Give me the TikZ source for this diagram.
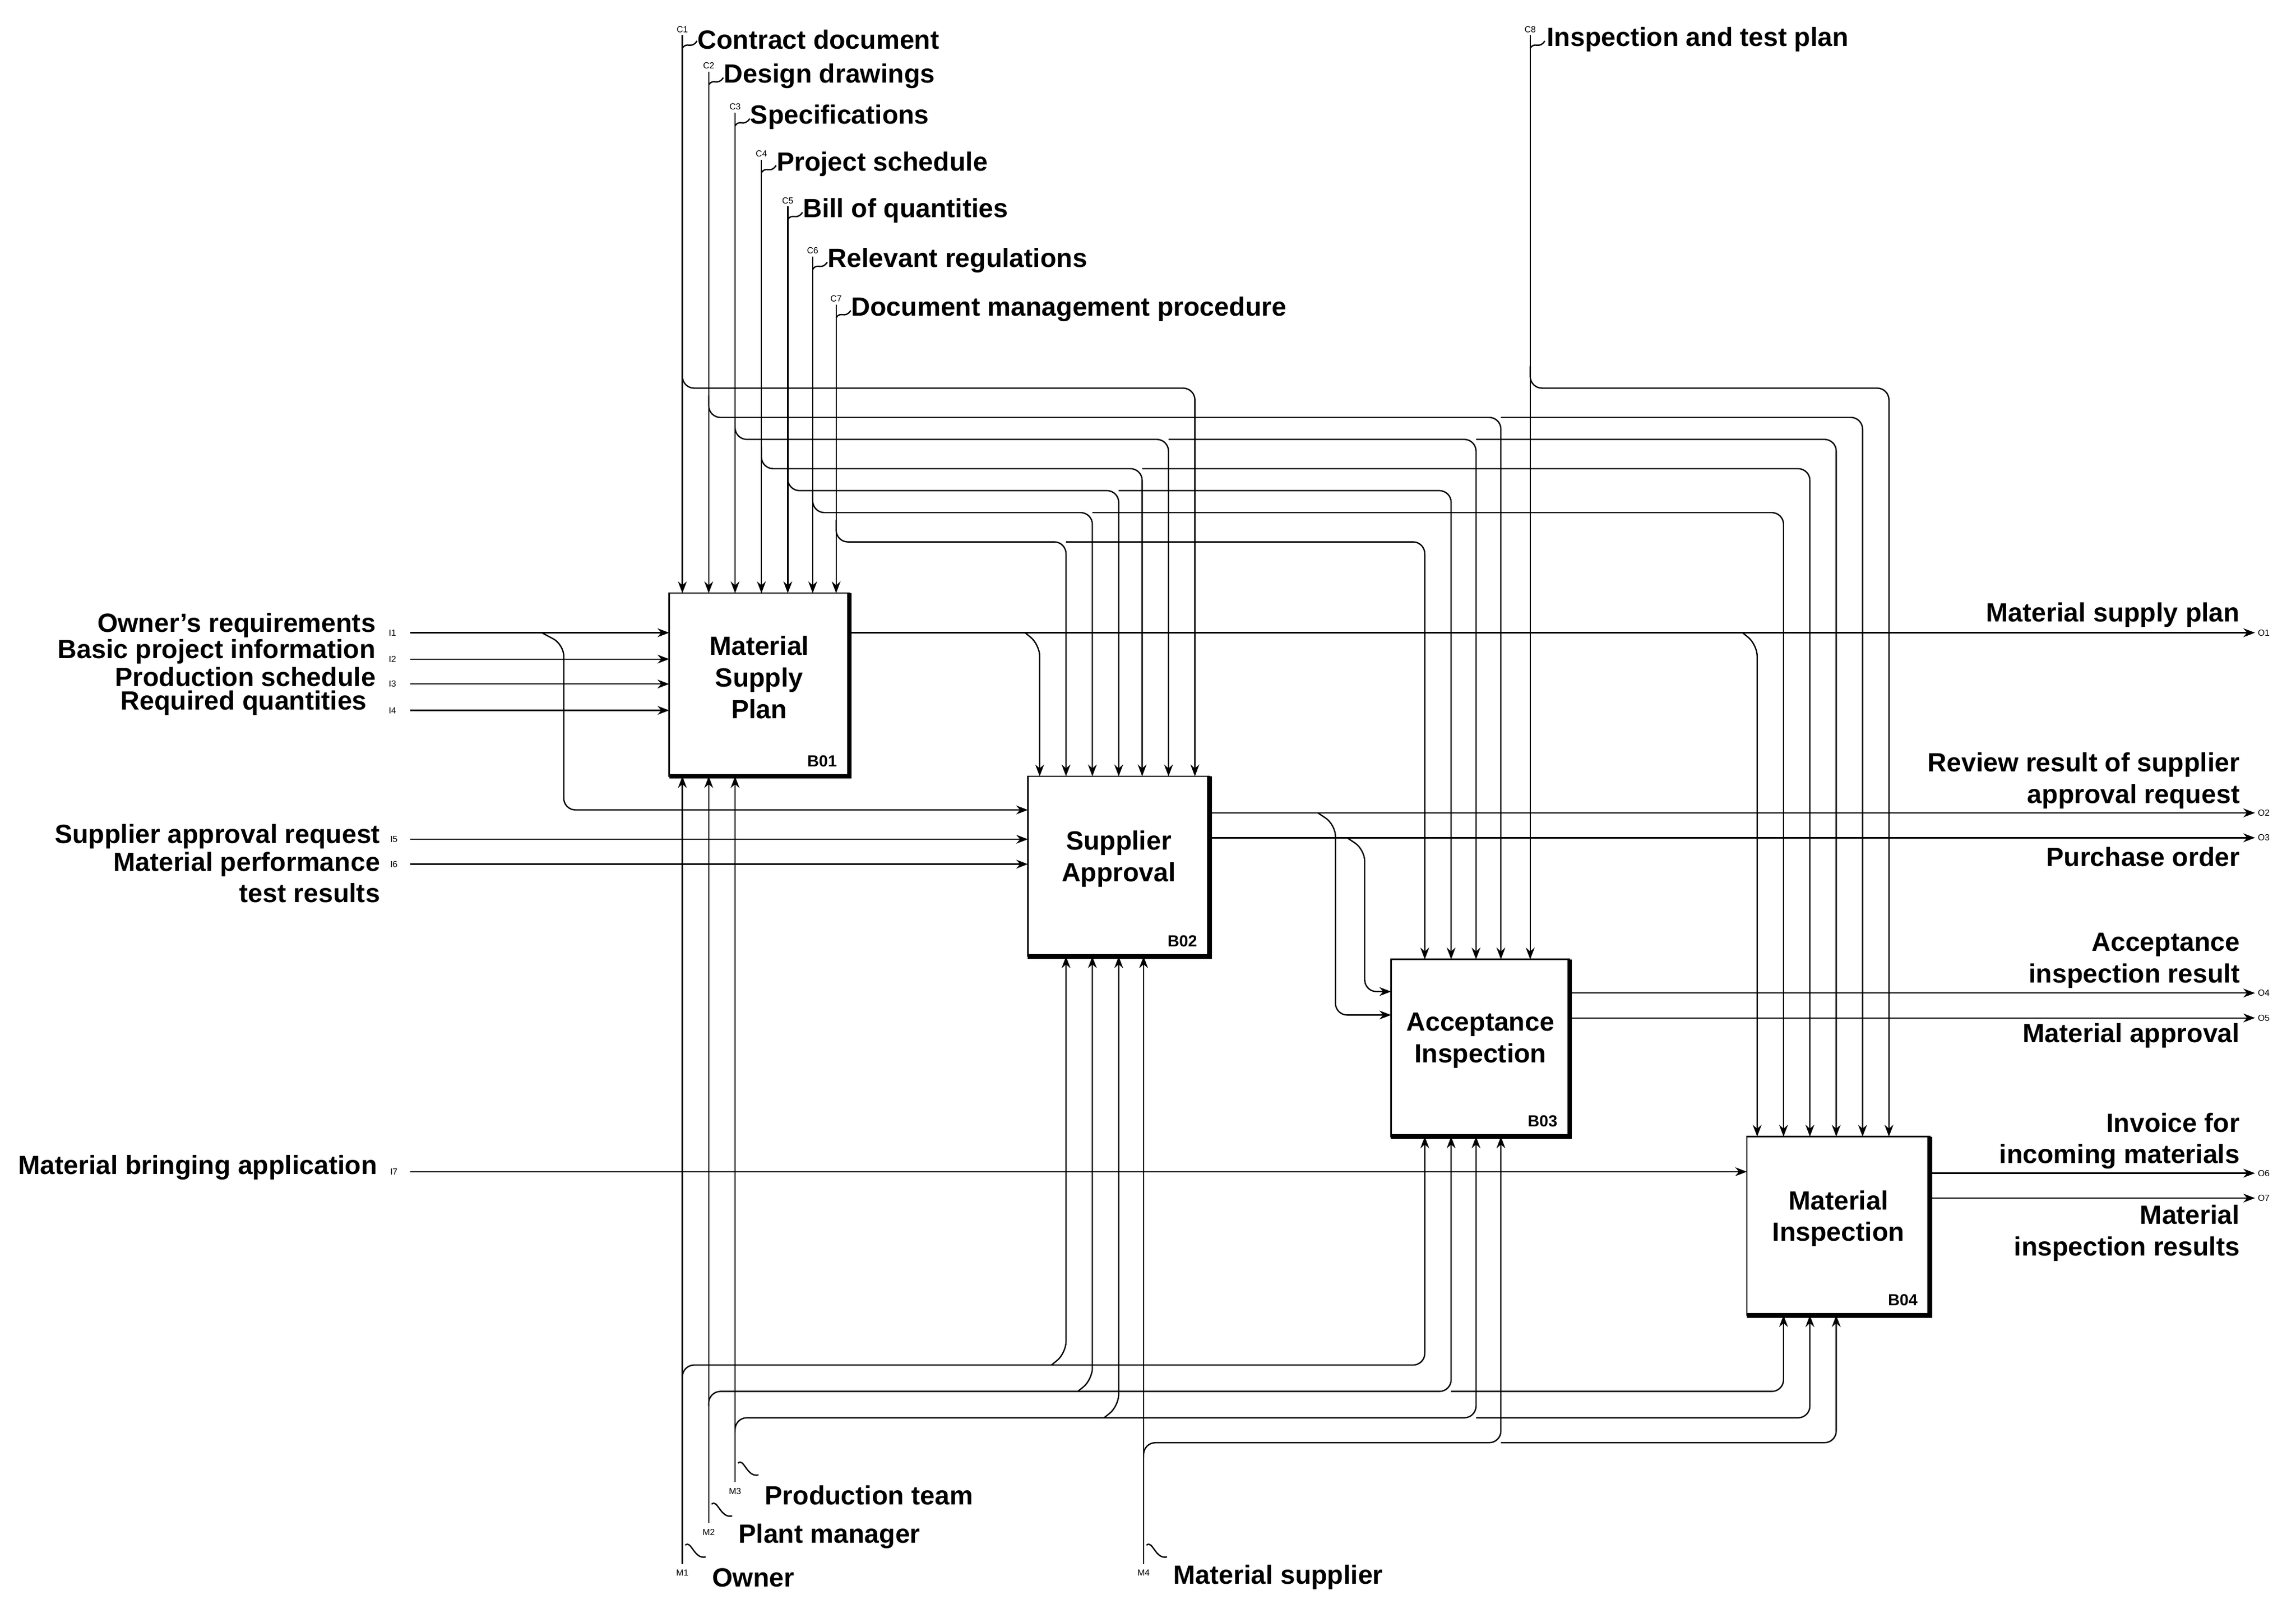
\documentclass[tikz,border=0pt]{standalone}
\usepackage{fontspec}
\setmainfont{Liberation Sans}
\usetikzlibrary{arrows.meta}
\begin{document}
\begin{tikzpicture}[x=0.5pt,y=-0.5pt,line width=0.45pt,
 >={Stealth[length=4pt,width=3pt]},
 rc/.style={rounded corners=4pt},
 lab/.style={font=\fontsize{9}{10.8}\selectfont\bfseries,inner sep=0},
 blab/.style={font=\fontsize{9}{10.8}\selectfont\bfseries,inner sep=0,align=center},
 tag/.style={font=\fontsize{3}{3}\selectfont,inner sep=0},
 shadow/.style={line width=1.6pt}]
\useasboundingbox[fill=white] (0,0) rectangle (1568,1095);
% boxes
\foreach \a/\b/\c/\d/\n/\t in {457/405/580/530/B01/{Material\\Supply\\Plan},702/530/826/653/B02/{Supplier\\Approval},950/655/1072/776/B03/{Acceptance\\Inspection},1193/776/1318/898/B04/{Material\\Inspection}}{
 \draw (\a,\b) rectangle (\c,\d);
 \draw[shadow] (\c,\b)--(\c,\d)--(\a,\d);
 \node[blab] (\n) at ({(\a+\c)/2},{(\b+\d)/2-5}) {\t};
 \node[tag,font=\fontsize{5.5}{6}\selectfont\bfseries,anchor=south east] at (\c-8,\d-6) {\n};
}
% controls
\foreach \x/\y/\t/\n in {466/27/Contract document/C1,484/52/Design drawings/C2,502/80/Specifications/C3,520/112/Project schedule/C4,538/144/Bill of quantities/C5,555/178/Relevant regulations/C6,571/211/Document management procedure/C7}{
 \draw[->] (\x,\y-3)--(\x,405);
 \node[tag] at (\x,\y-7) {\n};
 \draw (\x,\y+6) .. controls (\x+3,\y+1) and (\x+6,\y+7) .. (\x+10,\y+1);
 \node[lab,anchor=west] at (\x+10,\y) {\t};
}
\draw[->] (1045,24)--(1045,655);
\node[tag] at (1045,20) {C8};
\draw (1045,33) .. controls (1048,28) and (1051,34) .. (1055,28);
\node[lab,anchor=west] (c8) at (1056,27) {Inspection and test plan};
% control branches
\draw[->,rc] (466,250)--(466,265)--(816,265)--(816,530);
\draw[->,rc] (1045,250)--(1045,265)--(1290,265)--(1290,776);
\draw[->,rc] (484,270)--(484,285)--(1025,285)--(1025,655);
\draw[->,rc] (1025,285)--(1272,285)--(1272,776);
\draw[->,rc] (502,285)--(502,300)--(798,300)--(798,530);
\draw[->,rc] (798,300)--(1008,300)--(1008,655);
\draw[->,rc] (1008,300)--(1254,300)--(1254,776);
\draw[->,rc] (520,305)--(520,320)--(780,320)--(780,530);
\draw[->,rc] (780,320)--(1236,320)--(1236,776);
\draw[->,rc] (538,320)--(538,335)--(764,335)--(764,530);
\draw[->,rc] (764,335)--(991,335)--(991,655);
\draw[->,rc] (555,335)--(555,350)--(746,350)--(746,530);
\draw[->,rc] (746,350)--(1218,350)--(1218,776);
\draw[->,rc] (571,355)--(571,370)--(728,370)--(728,530);
\draw[->,rc] (728,370)--(973,370)--(973,655);
% inputs
\foreach \y/\t/\n/\xe in {432/Owner’s requirements/I1/257,450/Basic project information/I2/257,467/Production schedule/I3/257,485/Required quantities/I4/251}{
 \node[lab,anchor=east] at (\xe,\y-5) {\t};
 \node[tag] at (268,\y) {\n};
 \draw[->] (280,\y)--(457,\y);
}
\draw[->,rc] (370,432)--(385,440)--(385,553)--(702,553);
\node[lab,anchor=east] at (260,571) {Supplier approval request};
\node[tag] at (269,573) {I5};
\draw[->] (280,573)--(702,573);
\node[lab,anchor=east,align=right] at (260,599) {Material performance\\test results};
\node[tag] at (269,590) {I6};
\draw[->] (280,590)--(702,590);
\node[lab,anchor=east] at (258,797) {Material bringing application};
\node[tag] at (269,800) {I7};
\draw[->] (280,800)--(1193,800);
% outputs
\draw[->] (580,432)--(1540,432);
\draw[->,rc] (700,432)--(710,440)--(710,530);
\draw[->,rc] (1190,432)--(1200,440)--(1200,776);
\draw[->] (826,555)--(1540,555);
\draw[->] (826,572)--(1540,572);
\draw[->,rc] (900,555)--(912,563)--(912,693)--(950,693);
\draw[->,rc] (920,572)--(932,580)--(932,677)--(950,677);
\draw[->] (1072,678)--(1540,678);
\draw[->] (1072,695)--(1540,695);
\draw[->] (1318,801)--(1540,801);
\draw[->] (1318,818)--(1540,818);
\foreach \y/\n in {432/O1,555/O2,572/O3,678/O4,695/O5,801/O6,818/O7}{\node[tag] at (1546,\y) {\n};}
\node[lab,anchor=east] at (1530,420) {Material supply plan};
\node[lab,anchor=east,align=right] at (1530,533) {Review result of supplier\\approval request};
\node[lab,anchor=east] at (1530,585) {Purchase order};
\node[lab,anchor=east,align=right] at (1530,656) {Acceptance\\inspection result};
\node[lab,anchor=east] at (1530,707) {Material approval};
\node[lab,anchor=east,align=right] at (1530,779) {Invoice for\\incoming materials};
\node[lab,anchor=east,align=right] at (1530,842) {Material\\inspection results};
% mechanisms
\foreach \x/\y/\t/\n in {466/1077/Owner/M1,484/1049/Plant manager/M2,502/1021/Production team/M3,781/1077/Material supplier/M4}{
 \node[tag] at (\x,\y-3) {\n};
 \draw (\x+2,\y-22) .. controls (\x+6,\y-26) and (\x+8,\y-12) .. (\x+16,\y-14);
 \node[lab,anchor=west] at (\x+20,\y) {\t};
}
\draw[->] (466,1068)--(466,530);
\draw[->] (484,1040)--(484,530);
\draw[->] (502,1012)--(502,530);
\draw[->] (781,1068)--(781,653);
\draw[->,rc] (466,945)--(466,932)--(973,932)--(973,776);
\draw[->,rc] (718,932)--(728,924)--(728,653);
\draw[->,rc] (484,960)--(484,950)--(991,950)--(991,776);
\draw[->,rc] (736,950)--(746,942)--(746,653);
\draw[->,rc] (991,950)--(1218,950)--(1218,898);
\draw[->,rc] (502,978)--(502,968)--(1008,968)--(1008,776);
\draw[->,rc] (754,968)--(764,960)--(764,653);
\draw[->,rc] (1008,968)--(1236,968)--(1236,898);
\draw[->,rc] (781,995)--(781,985)--(1025,985)--(1025,776);
\draw[->,rc] (1025,985)--(1254,985)--(1254,898);
\end{tikzpicture}
\end{document}
